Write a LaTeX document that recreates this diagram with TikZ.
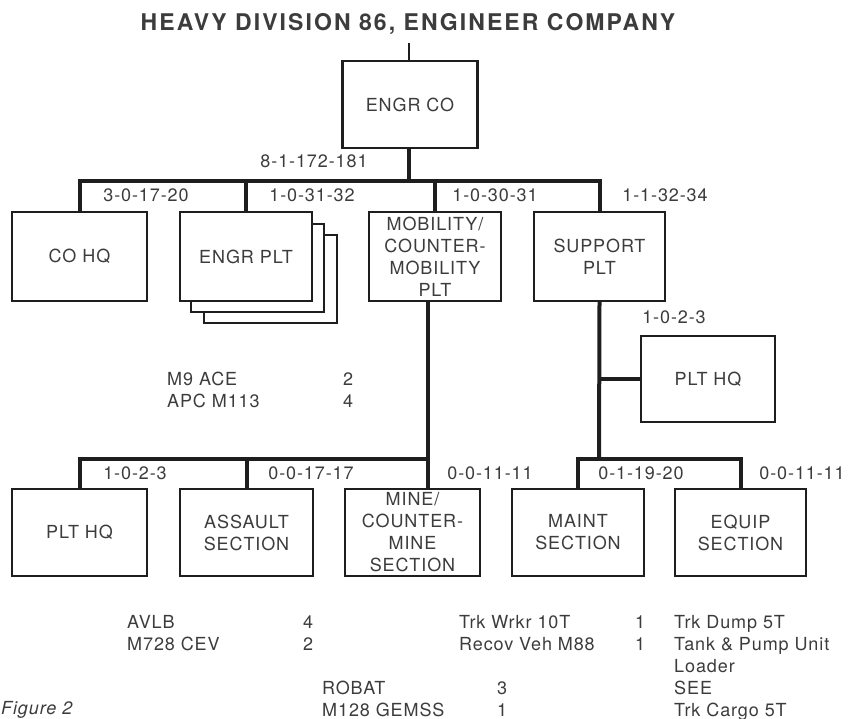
\documentclass[tikz,border=0pt]{standalone}
\usepackage{fontspec}
\newfontfamily\chartfont{TeX Gyre Heros}[LetterSpace=5]
\newfontfamily\titlefont{TeX Gyre Heros}[LetterSpace=9]
\definecolor{inkblack}{RGB}{30,30,30}
\definecolor{printgray}{RGB}{60,60,60}

\begin{document}
\begin{tikzpicture}[
  x=1pt, y=-1pt,
  unit/.style={rectangle, draw=inkblack, fill=white, line width=2.3pt, minimum width=133pt, minimum height=88pt, align=center, text=printgray, font=\chartfont\fontsize{18}{22}\selectfont, inner sep=0pt},
  conn/.style={draw=inkblack, line width=4pt},
  strength/.style={text=printgray, font=\chartfont\fontsize{18}{22}\selectfont, inner sep=0pt, text height=0.72em, text depth=0pt},
  item/.style={strength, anchor=west}
]
\useasboundingbox (0,0) rectangle (850,719);
\begin{scope}
\clip (0,0) rectangle (850,719);

% title
\node[text=printgray, font=\titlefont\bfseries\fontsize{23}{26}\selectfont] (title) at (408,24) {HEAVY DIVISION 86, ENGINEER COMPANY};
\coordinate (ttop) at (409,43);

% company
\node[unit, minimum width=135pt, minimum height=87pt] (engrco) at (410,104.5) {ENGR CO};
\node[strength] (sco) at (314,164) {8-1-172-181};

% platoons
\node[unit, minimum width=135pt, minimum height=89pt] (cohq) at (79.5,256.5) {CO HQ};
\node[unit, minimum width=133pt, minimum height=88pt] (engrplt3) at (270.5,279) {};
\node[unit, minimum width=133pt, minimum height=88pt] (engrplt2) at (257.5,268) {};
\node[unit, minimum width=132pt, minimum height=89pt] (engrplt) at (246,256.5) {ENGR PLT};
\node[unit, minimum width=132pt, minimum height=89pt] (mobility) at (435,256.5) {MOBILITY/\\COUNTER-\\MOBILITY\\PLT};
\node[unit, minimum width=131pt, minimum height=89pt] (support) at (599.5,256.5) {SUPPORT\\PLT};
\node[strength] (scohq) at (146,198) {3-0-17-20};
\node[strength] (sengr) at (312,198) {1-0-31-32};
\node[strength] (smob) at (495,198) {1-0-30-31};
\node[strength] (ssup) at (665,198) {1-1-32-34};

% support platoon headquarters
\node[unit, minimum width=134pt, minimum height=86pt] (plthqs) at (708,379) {PLT HQ};
\node[strength] (splthqs) at (674,320) {1-0-2-3};

% sections
\node[unit, minimum width=135pt, minimum height=87pt] (plthqm) at (79.5,532.5) {PLT HQ};
\node[unit, minimum width=133pt, minimum height=87pt] (assault) at (246.5,532.5) {ASSAULT\\SECTION};
\node[unit, minimum width=135pt, minimum height=87pt] (mine) at (412.5,532.5) {MINE/\\COUNTER-\\MINE\\SECTION};
\node[unit, minimum width=132pt, minimum height=87pt] (maint) at (578,532.5) {MAINT\\SECTION};
\node[unit, minimum width=131pt, minimum height=87pt] (equip) at (740.5,532.5) {EQUIP\\SECTION};
\node[strength] (splthqm) at (135,476) {1-0-2-3};
\node[strength] (sass) at (311,476) {0-0-17-17};
\node[strength] (smine) at (490,476) {0-0-11-11};
\node[strength] (smaint) at (641,476) {0-1-19-20};
\node[strength] (sequip) at (802,476) {0-0-11-11};

% connectors
\coordinate (topbus) at (409,181);
\coordinate (mcol) at (428,459);
\coordinate (sbus) at (599,459);
\draw[conn, line width=2.6pt] (ttop) -- (engrco.north -| ttop);
\draw[conn] (engrco.south -| ttop) -- (topbus);
\draw[conn] (cohq.north) |- (topbus) -| (support.north);
\draw[conn] (engrplt.north) -- (engrplt.north |- topbus);
\draw[conn] (mobility.north) -- (mobility.north |- topbus);
\draw[conn] (mobility.south -| mcol) -- (mine.north -| mcol);
\draw[conn] (plthqm.north) |- (mcol);
\draw[conn] (assault.north) -- (assault.north |- mcol);
\draw[conn] (support.south) -- (sbus);
\draw[conn] (support.south |- plthqs.west) -- (plthqs.west);
\draw[conn] (maint.north) |- (sbus) -| (equip.north);

% equipment
\node[item] (e1) at (167,382) {M9 ACE};
\node[item] (e1n) at (343,382) {2};
\node[item] (e2) at (167,404) {APC M113};
\node[item] (e2n) at (343,404) {4};
\node[item] (e3) at (127,625) {AVLB};
\node[item] (e3n) at (303,625) {4};
\node[item] (e4) at (127,647) {M728 CEV};
\node[item] (e4n) at (303,647) {2};
\node[item] (e5) at (322,691) {ROBAT};
\node[item] (e5n) at (497,691) {3};
\node[item] (e6) at (322,713) {M128 GEMSS};
\node[item] (e6n) at (497,713) {1};
\node[item] (e7) at (459,625) {Trk Wrkr 10T};
\node[item] (e7n) at (635,625) {1};
\node[item] (e8) at (459,647) {Recov Veh M88};
\node[item] (e8n) at (635,647) {1};
\node[item] (e9) at (674,625) {Trk Dump 5T};
\node[item] (e10) at (674,647) {Tank \& Pump Unit};
\node[item] (e11) at (674,669) {Loader};
\node[item] (e12) at (674,691) {SEE};
\node[item] (e13) at (674,713) {Trk Cargo 5T};

% caption
\node[text=printgray, inner sep=0pt, anchor=base west, font=\chartfont\itshape\fontsize{18}{22}\selectfont] (caption) at (1,714) {Figure 2};
\end{scope}
\end{tikzpicture}
\end{document}
